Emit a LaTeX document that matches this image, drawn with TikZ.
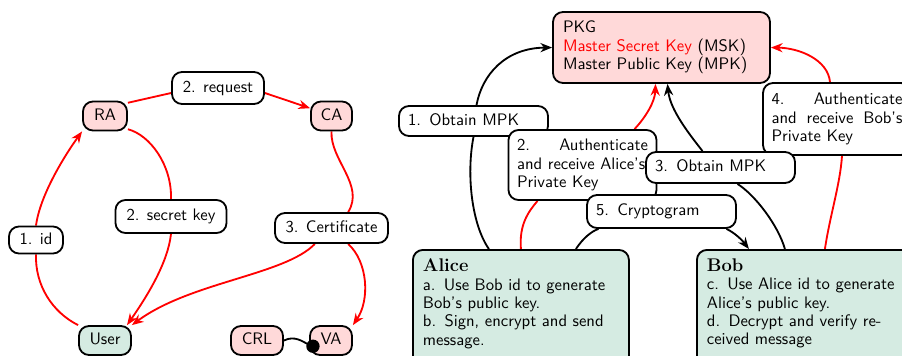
\documentclass[tikz,border=0pt]{standalone}
\usetikzlibrary{arrows.meta,backgrounds}
\definecolor{pinkfill}{HTML}{FFD9D9}
\definecolor{greenfill}{HTML}{D5EBE2}
\def\PX{0.6pt}
\begin{document}
\begin{tikzpicture}[x=0.6pt,y=-0.6pt,
  font=\sffamily\fontsize{10}{11}\selectfont,
  box/.style={draw, line width=1.1pt, rounded corners=6pt},
  sl/.style={inner sep=0pt, text height=7pt, text depth=2pt},
  ent/.style={box, sl, fill=pinkfill},
  usr/.style={box, fill=greenfill, inner xsep=10*\PX, inner ysep=9*\PX, text width=196*\PX, align=left, anchor=north west},
  lbl/.style={box, sl, fill=white},
  rlbl/.style={box, fill=white, inner xsep=8.5*\PX, inner ysep=0pt, text width=131*\PX, align=left},
  rline/.style={red, line width=1.1pt},
  bline/.style={black, line width=1.1pt},
  rarr/.style={rline, -{Stealth[length=7pt,width=5.5pt]}},
  barr/.style={bline, -{Stealth[length=7pt,width=5.5pt]}},
  ttl/.style={font=\rmfamily\bfseries\fontsize{11}{11}\selectfont},
]
\useasboundingbox (0,0) rectangle (902,355);

% ---------- left diagram ----------
\node[ent, minimum width=44*\PX, minimum height=29*\PX] (RA) at (105,116) {RA};
\node[ent, minimum width=41*\PX, minimum height=29*\PX] (CA) at (331.5,116) {CA};
\node[box, sl, fill=greenfill, minimum width=52*\PX, minimum height=29*\PX] (User) at (105,340.5) {User};
\node[ent, minimum width=52*\PX, minimum height=29*\PX] (CRL) at (257,340.5) {CRL};
\node[ent, minimum width=42*\PX, minimum height=29*\PX] (VA) at (331,340.5) {VA};

\node[lbl, minimum width=92*\PX, minimum height=32*\PX] (req) at (218,88) {2. request};
\node[lbl, minimum width=54*\PX, minimum height=27*\PX] (idl) at (36,240) {1. id};
\node[lbl, minimum width=111*\PX, minimum height=33*\PX] (sk) at (171,216.5) {2. secret key};
\node[lbl, minimum width=113*\PX, minimum height=30*\PX] (cert) at (331.5,228) {3. Certificate};

% ---------- right diagram ----------
\node[box, fill=pinkfill, inner xsep=10*\PX, inner ysep=0pt, text width=197*\PX, minimum height=71*\PX, align=left] (PKG) at (661.5,47.5)
  {PKG\\ \textcolor{red}{Master Secret Key} (MSK)\\ Master Public Key (MPK)};

\node[usr] (Alice) at (412,249)
  {{\rmfamily\bfseries\fontsize{11}{11}\selectfont Alice}\\
   a. Use Bob id to generate\\
   Bob's public key.\\
   b. Sign, encrypt and send\\
   message.\rule[-8pt]{0pt}{8pt}};
\node[usr] (Bob) at (696,249)
  {{\rmfamily\bfseries\fontsize{11}{11}\selectfont Bob}\\
   c. Use Alice id to generate\\
   Alice's public key.\\
   d. Decrypt and verify re-\\
   ceived message\rule[-8pt]{0pt}{8pt}};

\node[rlbl, sl, inner xsep=9*\PX, minimum height=30*\PX] (ob1) at (473.5,121) {1. Obtain MPK};
\node[rlbl, minimum height=70*\PX] (au2) at (582.5,165)
  {2.\hspace{0pt plus 1fill}Authenticate\\ \mbox{and receive Alice's}\\ Private Key};
\node[rlbl, minimum height=72*\PX] (au4) at (837,119)
  {4.\hspace{0pt plus 1fill}Authenticate\\ and\hspace{0pt plus 1fill}receive\hspace{0pt plus 1fill}Bob's\\ Private Key};
\node[rlbl, sl, inner xsep=9*\PX, minimum height=31*\PX] (ob3) at (720.5,167.5) {3. Obtain MPK};
\node[rlbl, sl, inner xsep=9*\PX, minimum height=33*\PX] (cr5) at (661.5,211.5) {5. Cryptogram};

% ---------- connectors ----------
\begin{scope}[on background layer]
  % left
  \draw[rline] (User.north west) .. controls (52,312) and (35,285) .. (idl.south);
  \draw[rarr] (idl.north) .. controls (40,195) and (65,155) .. (RA.south west);
  \draw[rline] (RA.30) -- ([yshift=-3pt]req.west);
  \draw[rarr] ([yshift=-3pt]req.east) -- (CA.160);
  \draw[rline] (RA.-30) .. controls (150,135) and (172,165) .. (sk.north);
  \draw[rarr] (sk.south) .. controls (168,262) and (148,295) .. (User.35);
  \draw[rline] (CA.south) .. controls (330,160) and (365,185) .. ([xshift=10pt]cert.north);
  \draw[rarr] ([xshift=-10pt]cert.south) .. controls (285,275) and (190,282) .. (User.north east);
  \draw[rarr] ([xshift=10pt]cert.south) .. controls (368,262) and (370,300) .. (VA.north east);
  % right
  \draw[bline] ([xshift=-32*\PX]Alice.north) .. controls (472,225) and (466,175) .. (ob1.south);
  \draw[barr] ([xshift=3*\PX]ob1.north) .. controls (482,75) and (505,48) .. (PKG.west);
  \draw[rline] (Alice.north) .. controls (519,225) and (528,212) .. ([xshift=-45*\PX]au2.south);
  \draw[rarr] ([xshift=52*\PX]au2.north) .. controls (645,118) and (655,102) .. ([xshift=-6*\PX]PKG.south);
  \draw[bline] ([xshift=-20*\PX]Bob.north) .. controls (778,225) and (755,195) .. ([xshift=17*\PX]ob3.south);
  \draw[barr] ([xshift=-18*\PX]ob3.north) .. controls (690,135) and (670,110) .. ([xshift=6*\PX]PKG.south);
  \draw[rline] ([xshift=20*\PX]Bob.north) .. controls (830,215) and (840,185) .. ([xshift=5*\PX]au4.south);
  \draw[rarr] ([xshift=-7*\PX]au4.north) .. controls (828,60) and (800,48) .. (PKG.east);
  \draw[bline] ([xshift=55*\PX]Alice.north) .. controls (583,238) and (592,231) .. ([xshift=-63*\PX]cr5.south);
  \draw[barr] ([xshift=65*\PX]cr5.south) .. controls (735,233) and (742,240) .. ([xshift=-56*\PX]Bob.north);
\end{scope}
\draw[bline, -{Circle[length=8pt]}] (CRL.east) .. controls (295,335) and (303,342) .. ([shift={(6pt,-5pt)}]VA.west);
\end{tikzpicture}
\end{document}
